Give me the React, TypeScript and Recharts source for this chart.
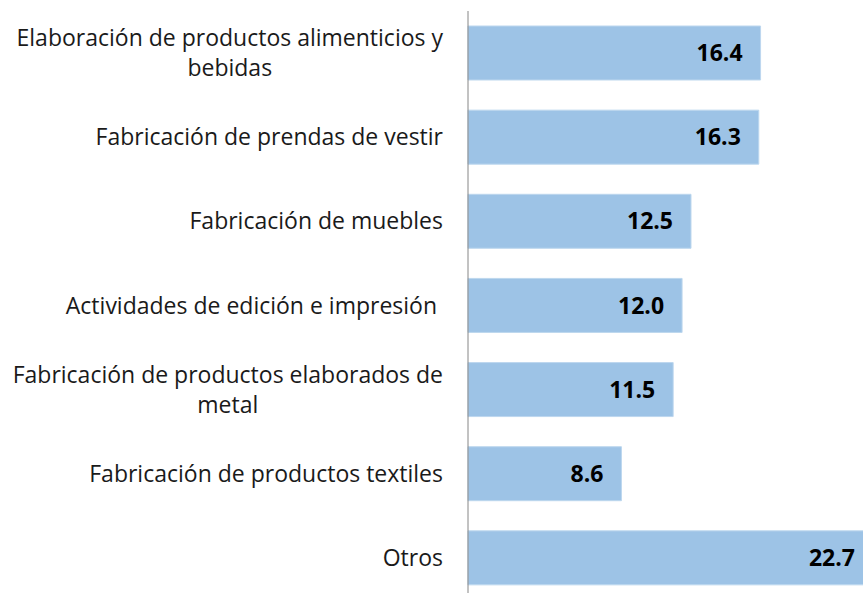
import { BarChart, Bar, XAxis, YAxis, LabelList } from "recharts"

const categories = [
  "Elaboración de productos alimenticios y bebidas",
  "Fabricación de prendas de vestir",
  "Fabricación de muebles",
  "Actividades de edición e impresión ",
  "Fabricación de productos elaborados de metal",
  "Fabricación de productos textiles",
  "Otros",
]
const shares = [16.4, 16.3, 12.5, 12.0, 11.5, 8.6, 22.7]
const tickLines: string[][] = [
  ["Elaboración de productos alimenticios y", "bebidas"],
  ["Fabricación de prendas de vestir"],
  ["Fabricación de muebles"],
  ["Actividades de edición e impresión "],
  ["Fabricación de productos elaborados de", "metal"],
  ["Fabricación de productos textiles"],
  ["Otros"],
]

const FONT = "'Open Sans', sans-serif"
const TICK_SIZE = 23

const data = categories.map((name, i) => ({ name, value: shares[i] }))

let ctx: CanvasRenderingContext2D | null = null
function textWidth(s: string) {
  if (!ctx) ctx = document.createElement("canvas").getContext("2d")
  if (!ctx) return s.length * 11
  ctx.font = `${TICK_SIZE}px ${FONT}`
  return ctx.measureText(s).width
}

// wrapped labels: lines centred on each other, block right-aligned to the axis
function CategoryTick(props: any) {
  const { x, y, payload } = props
  const lines: string[] = tickLines[categories.indexOf(payload.value)] || [payload.value]
  const right = x - 17
  const widest = Math.max(...lines.map(textWidth))
  const lh = 30
  const top = y - ((lines.length - 1) * lh) / 2
  return (
    <g>
      {lines.map((l, i) => (
        <text
          key={i}
          x={lines.length > 1 ? right - widest / 2 : right}
          y={top + i * lh}
          dy="0.35em"
          textAnchor={lines.length > 1 ? "middle" : "end"}
          fontSize={TICK_SIZE}
          fontFamily={FONT}
          fill="#1a1a1a"
          style={{ whiteSpace: "pre" }}
        >
          {l}
        </text>
      ))}
    </g>
  )
}

export default function App() {
  return (
    <div style={{ position: "absolute", left: 0, top: 0, width: 863, height: 593, overflow: "hidden", background: "#fff" }}>
      <BarChart
        width={914}
        height={600}
        data={data}
        layout="vertical"
        margin={{ top: 11, right: 0, bottom: 0, left: 0 }}
      >
        <XAxis type="number" domain={[0, 25]} hide />
        <YAxis
          type="category"
          dataKey="name"
          width={468}
          axisLine={{ stroke: "#868686", strokeWidth: 1 }}
          tickLine={false}
          tick={<CategoryTick />}
          interval={0}
        />
        <Bar dataKey="value" fill="#9dc3e6" stroke="#bdd7ee" strokeWidth={1} barSize={54} isAnimationActive={false}>
          <LabelList
            dataKey="value"
            position="insideRight"
            offset={18}
            formatter={(v: any) => Number(v).toFixed(1)}
            fill="#000"
            fontSize={23}
            fontWeight="bold"
            fontFamily={FONT}
          />
        </Bar>
      </BarChart>
    </div>
  )
}
